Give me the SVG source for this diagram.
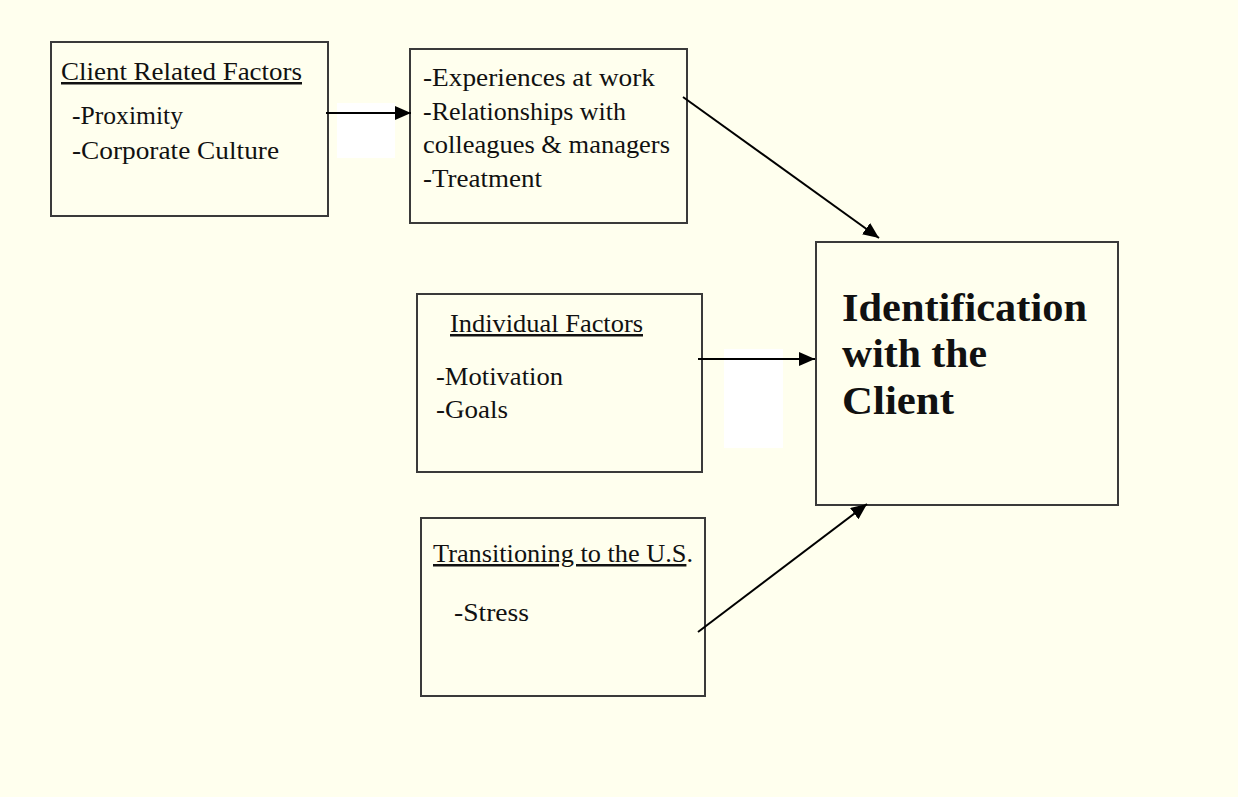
<svg xmlns="http://www.w3.org/2000/svg" width="1238" height="797" viewBox="0 0 1238 797">
  <style>
    .box { fill: #FFFFEE; stroke: #3a3a3a; stroke-width: 2; }
    .t { font-family: "Liberation Serif", "Times New Roman", serif; font-size: 25px; fill: #111; }
    .u { text-decoration: underline; }
    .big { font-family: "Liberation Serif", "Times New Roman", serif; font-size: 41px; font-weight: bold; fill: #111; }
    .conn { stroke: #000; stroke-width: 2; fill: none; marker-end: url(#arrow); }
    .patch { fill: #FFFFFF; stroke: none; }
  </style>
  <defs>
    <marker id="arrow" markerUnits="userSpaceOnUse" markerWidth="16" markerHeight="14" refX="16" refY="7" orient="auto">
      <path d="M0,0 L16,7 L0,14 z" fill="#000"/>
    </marker>
  </defs>
  <rect x="0" y="0" width="1238" height="797" fill="#FFFFEE"/>

  <rect class="patch" x="337" y="103" width="58" height="55"/>
  <rect class="patch" x="724" y="349" width="59" height="99"/>

  <g id="client-related-factors">
    <rect class="box" x="51" y="42" width="277" height="174"/>
    <text class="t u" x="61" y="80" textLength="241" lengthAdjust="spacingAndGlyphs">Client Related Factors</text>
    <text class="t" x="72" y="124" textLength="111" lengthAdjust="spacingAndGlyphs">-Proximity</text>
    <text class="t" x="72" y="159" textLength="207" lengthAdjust="spacingAndGlyphs">-Corporate Culture</text>
  </g>

  <g id="experiences">
    <rect class="box" x="410" y="49" width="277" height="174"/>
    <text class="t" x="423" y="86" textLength="232" lengthAdjust="spacingAndGlyphs">-Experiences at work</text>
    <text class="t" x="423" y="120" textLength="203" lengthAdjust="spacingAndGlyphs">-Relationships with</text>
    <text class="t" x="423" y="153" textLength="247" lengthAdjust="spacingAndGlyphs">colleagues &amp; managers</text>
    <text class="t" x="423" y="187" textLength="119" lengthAdjust="spacingAndGlyphs">-Treatment</text>
  </g>

  <g id="individual-factors">
    <rect class="box" x="417" y="294" width="285" height="178"/>
    <text class="t u" x="450" y="332" textLength="193" lengthAdjust="spacingAndGlyphs">Individual Factors</text>
    <text class="t" x="436" y="385" textLength="127" lengthAdjust="spacingAndGlyphs">-Motivation</text>
    <text class="t" x="436" y="418" textLength="72" lengthAdjust="spacingAndGlyphs">-Goals</text>
  </g>

  <g id="transitioning">
    <rect class="box" x="421" y="518" width="284" height="178"/>
    <text class="t" x="433" y="562" textLength="260" lengthAdjust="spacingAndGlyphs"><tspan class="u">Transitioning to the U.S</tspan>.</text>
    <text class="t" x="454" y="621" textLength="75" lengthAdjust="spacingAndGlyphs">-Stress</text>
  </g>

  <g id="identification">
    <rect class="box" x="816" y="242" width="302" height="263"/>
    <text class="big" x="842" y="321" textLength="245" lengthAdjust="spacingAndGlyphs">Identification</text>
    <text class="big" x="842" y="367" textLength="145" lengthAdjust="spacingAndGlyphs">with the</text>
    <text class="big" x="842" y="414" textLength="112" lengthAdjust="spacingAndGlyphs">Client</text>
  </g>

  <g id="connectors">
    <line class="conn" x1="326" y1="113" x2="411" y2="113"/>
    <line class="conn" x1="683" y1="97" x2="879" y2="238"/>
    <line class="conn" x1="698" y1="359" x2="815" y2="359"/>
    <line class="conn" x1="698" y1="632" x2="867" y2="504"/>
  </g>
</svg>
